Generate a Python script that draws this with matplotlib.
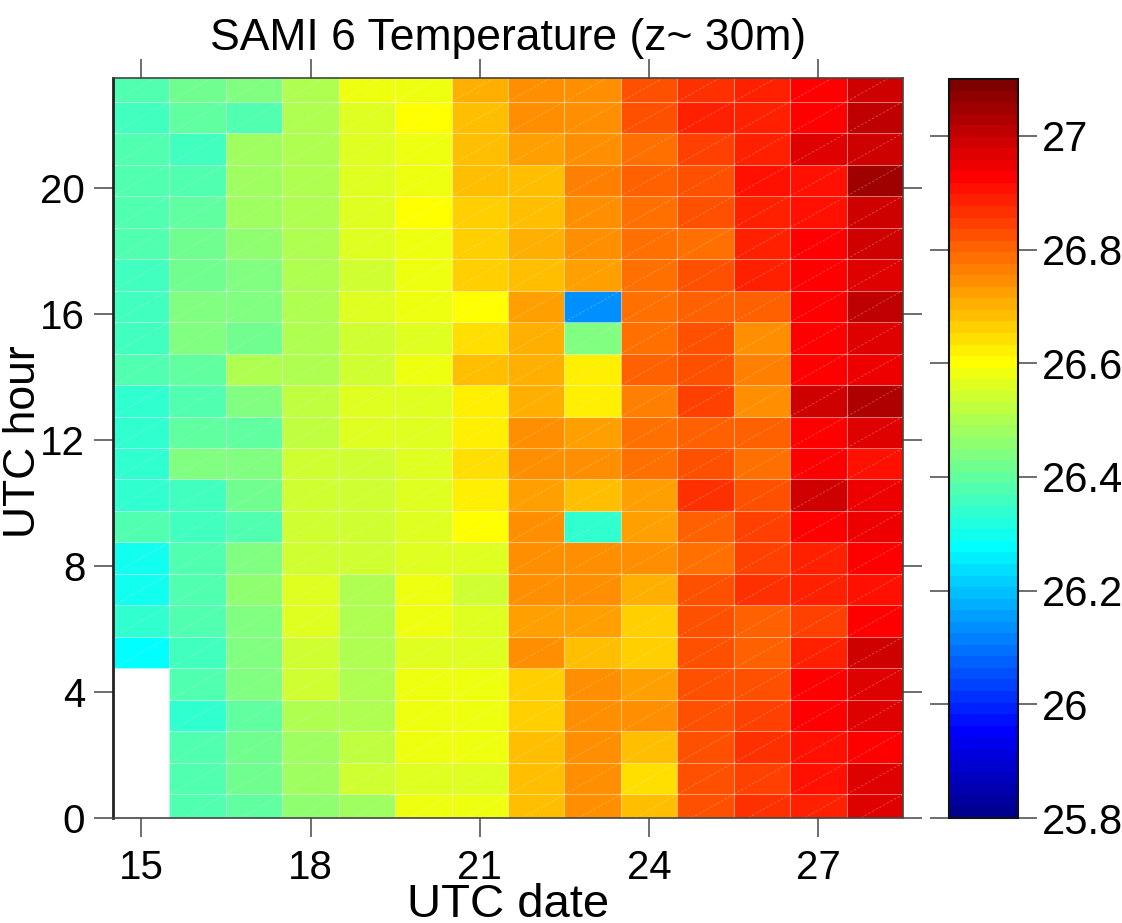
import numpy as np
import matplotlib
matplotlib.use('Agg')
import matplotlib.pyplot as plt
from matplotlib.collections import LineCollection
from matplotlib.colors import Normalize, ListedColormap

plt.rcParams['font.family'] = ['Liberation Sans', 'DejaVu Sans']

# UTC dates (columns) and UTC hours (rows)
dates = np.arange(15, 29)
hours = np.arange(24)

# temperature per date, hour 0..23 (NaN = no data)
nan = np.nan
d15 = [nan, nan, nan, nan, nan, 26.28, 26.33, 26.29, 26.29, 26.38, 26.34, 26.34,
       26.33, 26.33, 26.38, 26.36, 26.36, 26.36, 26.38, 26.38, 26.38, 26.38, 26.36, 26.38]
d16 = [26.38, 26.37, 26.37, 26.33, 26.37, 26.36, 26.37, 26.37, 26.37, 26.36, 26.36, 26.44,
       26.40, 26.38, 26.40, 26.44, 26.44, 26.42, 26.42, 26.40, 26.37, 26.36, 26.40, 26.42]
d17 = [26.40, 26.42, 26.42, 26.40, 26.44, 26.44, 26.44, 26.46, 26.44, 26.37, 26.42, 26.44,
       26.40, 26.45, 26.50, 26.42, 26.45, 26.45, 26.46, 26.48, 26.48, 26.48, 26.38, 26.44]
d18 = [26.46, 26.48, 26.48, 26.50, 26.54, 26.54, 26.56, 26.56, 26.54, 26.54, 26.54, 26.54,
       26.52, 26.52, 26.50, 26.50, 26.50, 26.50, 26.50, 26.50, 26.50, 26.50, 26.50, 26.50]
d19 = [26.48, 26.54, 26.52, 26.50, 26.50, 26.50, 26.50, 26.50, 26.54, 26.54, 26.54, 26.54,
       26.56, 26.56, 26.54, 26.54, 26.56, 26.54, 26.56, 26.56, 26.56, 26.56, 26.56, 26.58]
d20 = [26.58, 26.56, 26.58, 26.58, 26.58, 26.56, 26.58, 26.58, 26.56, 26.56, 26.56, 26.56,
       26.56, 26.56, 26.58, 26.56, 26.58, 26.58, 26.58, 26.60, 26.58, 26.58, 26.60, 26.58]
d21 = [26.58, 26.56, 26.58, 26.58, 26.58, 26.56, 26.56, 26.54, 26.57, 26.60, 26.62, 26.64,
       26.63, 26.63, 26.69, 26.64, 26.60, 26.66, 26.67, 26.66, 26.68, 26.69, 26.68, 26.70]
d22 = [26.68, 26.68, 26.68, 26.66, 26.66, 26.745, 26.725, 26.745, 26.745, 26.745, 26.725, 26.745,
       26.745, 26.70, 26.70, 26.70, 26.725, 26.68, 26.70, 26.69, 26.69, 26.725, 26.745, 26.745]
d23 = [26.745, 26.745, 26.745, 26.745, 26.745, 26.68, 26.725, 26.745, 26.745, 26.33, 26.68, 26.745,
       26.725, 26.62, 26.62, 26.44, 26.13, 26.725, 26.745, 26.745, 26.765, 26.735, 26.745, 26.745]
d24 = [26.68, 26.64, 26.69, 26.745, 26.725, 26.66, 26.66, 26.70, 26.745, 26.725, 26.725, 26.785,
       26.785, 26.765, 26.815, 26.785, 26.785, 26.785, 26.785, 26.785, 26.815, 26.785, 26.835, 26.825]
d25 = [26.825, 26.825, 26.825, 26.825, 26.825, 26.825, 26.825, 26.825, 26.785, 26.805, 26.865, 26.825,
       26.805, 26.855, 26.825, 26.825, 26.805, 26.825, 26.785, 26.825, 26.825, 26.845, 26.89, 26.865]
d26 = [26.865, 26.845, 26.865, 26.845, 26.825, 26.805, 26.805, 26.865, 26.855, 26.855, 26.825, 26.785,
       26.805, 26.745, 26.765, 26.745, 26.805, 26.89, 26.89, 26.89, 26.91, 26.89, 26.89, 26.89]
d27 = [26.89, 26.91, 26.91, 26.93, 26.93, 26.89, 26.845, 26.89, 26.89, 26.93, 26.99, 26.93,
       26.93, 26.99, 26.93, 26.93, 26.93, 26.93, 26.93, 26.91, 26.91, 26.96, 26.93, 26.93]
d28 = [26.97, 26.96, 26.93, 26.97, 26.96, 26.98, 26.93, 26.91, 26.93, 26.95, 26.95, 26.91,
       26.96, 27.03, 26.95, 26.96, 27.00, 26.96, 26.98, 26.99, 27.05, 26.99, 27.01, 26.99]

xticks = [15, 18, 21, 24, 27]
yticks = [0, 4, 8, 12, 16, 20]
cticks = [25.8, 26.0, 26.2, 26.4, 26.6, 26.8, 27.0]
clabels = ['25.8', '26', '26.2', '26.4', '26.6', '26.8', '27']
clim = (25.8, 27.1)


def matlab_jet(m=64):
    """MATLAB-style jet colormap with m levels."""
    n = int(np.ceil(m / 4))
    u = np.concatenate([np.arange(1, n + 1) / n, np.ones(n - 1), np.arange(n, 0, -1) / n])
    g = int(np.ceil(n / 2)) - (1 if m % 4 == 1 else 0) + np.arange(1, len(u) + 1)
    r = g + n
    b = g - n
    gi, ri, bi = g[g <= m], r[r <= m], b[b >= 1]
    J = np.zeros((m, 3))
    J[ri - 1, 0] = u[:len(ri)]
    J[gi - 1, 1] = u[:len(gi)]
    J[bi - 1, 2] = u[-len(bi):]
    return ListedColormap(J)


temp = np.ma.masked_invalid(np.array(
    [d15, d16, d17, d18, d19, d20, d21, d22, d23, d24, d25, d26, d27, d28]).T)

# cell edges (hourly cells offset by 0.25 h)
xe = np.append(dates - 0.5, dates[-1] + 0.5)
ye = np.append(hours - 0.25, hours[-1] + 0.75)

fig = plt.figure(figsize=(11.22, 9.23), dpi=100)
ax = fig.add_axes([113 / 1122, 105 / 923, 790 / 1122, 740 / 923])
cax = fig.add_axes([949 / 1122, 105 / 923, 69 / 1122, 739 / 923])

cmap = matlab_jet(64)
norm = Normalize(*clim)
mesh = ax.pcolormesh(xe, ye, temp, cmap=cmap, norm=norm,
                     edgecolors=(1, 1, 1, 0.22), linewidth=0.8, antialiased=True)

# faint diagonal seams across each cell
segs = []
for j in range(len(dates)):
    for i in range(len(hours)):
        if temp.mask[i, j]:
            continue
        segs.append([(xe[j], ye[i]), (xe[j + 1], ye[i + 1])])
ax.add_collection(LineCollection(segs, colors=(1, 1, 1, 0.3), linewidths=0.6,
                                 linestyles=(0, (3, 2))))

ax.set_xlim(14.5, 28.5)
ax.set_ylim(0, 23.5)
ax.set_facecolor('white')
ax.set_xticks(xticks)
ax.set_yticks(yticks)
ax.tick_params(direction='out', length=14, width=1.2, color='#555555',
               labelsize=29, top=True, right=True, pad=6)
ax.tick_params(axis='x', pad=8)
for s in ax.spines.values():
    s.set_color('#444444')
    s.set_linewidth(1.2)
ax.spines['left'].set_color('#222222')
ax.spines['left'].set_linewidth(2)

ax.set_xlabel('UTC date', fontsize=34)
ax.set_ylabel('UTC hour', fontsize=32)
ax.xaxis.label.set_va('baseline')
ax.xaxis.set_label_coords(0.5, -(917 - 818) / 740)
ax.yaxis.label.set_va('baseline')
ax.yaxis.set_label_coords(-(113 - 35) / 790, 0.508)

fig.text(508 / 1122, 1 - 50 / 923, 'SAMI 6 Temperature (z~ 30m)',
         ha='center', va='baseline', fontsize=32)

cb = fig.colorbar(mesh, cax=cax, ticks=cticks)
cb.ax.set_yticklabels(clabels)
cb.ax.tick_params(direction='out', length=14, width=1.2, color='#555555',
                  labelsize=30, left=True, right=True, pad=3)
cb.outline.set_edgecolor('#111111')
cb.outline.set_linewidth(1.5)

fig.savefig('out.png', dpi=100, facecolor='white')
